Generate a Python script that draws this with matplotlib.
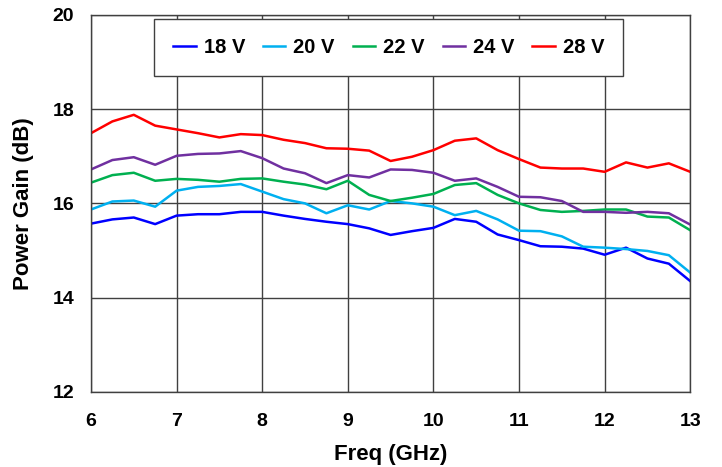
import numpy as np
import matplotlib
matplotlib.use("Agg")
import matplotlib.pyplot as plt

# Frequency points (GHz)
freq = np.arange(6.0, 13.01, 0.25)

# Power gain (dB) per drain voltage
gain_18v = [15.57, 15.66, 15.70, 15.56, 15.74, 15.77, 15.77, 15.82, 15.82, 15.74,
            15.67, 15.61, 15.56, 15.47, 15.33, 15.41, 15.48, 15.67, 15.61, 15.34,
            15.22, 15.09, 15.08, 15.04, 14.91, 15.06, 14.83, 14.72, 14.35]
gain_20v = [15.87, 16.04, 16.06, 15.93, 16.27, 16.35, 16.37, 16.41, 16.25, 16.09,
            16.00, 15.79, 15.96, 15.87, 16.05, 16.00, 15.93, 15.75, 15.84, 15.66,
            15.42, 15.41, 15.30, 15.08, 15.06, 15.03, 14.99, 14.90, 14.53]
gain_22v = [16.44, 16.60, 16.65, 16.48, 16.52, 16.50, 16.46, 16.52, 16.53, 16.46,
            16.40, 16.30, 16.48, 16.18, 16.05, 16.12, 16.20, 16.39, 16.43, 16.18,
            16.00, 15.86, 15.82, 15.84, 15.87, 15.87, 15.72, 15.70, 15.43]
gain_24v = [16.72, 16.92, 16.98, 16.82, 17.01, 17.05, 17.06, 17.11, 16.96, 16.74,
            16.64, 16.43, 16.60, 16.55, 16.72, 16.71, 16.65, 16.48, 16.53, 16.35,
            16.14, 16.13, 16.05, 15.82, 15.82, 15.80, 15.82, 15.79, 15.55]
gain_28v = [17.49, 17.74, 17.88, 17.65, 17.57, 17.49, 17.40, 17.47, 17.45, 17.35,
            17.28, 17.17, 17.16, 17.12, 16.90, 16.99, 17.13, 17.33, 17.38, 17.13,
            16.94, 16.76, 16.74, 16.74, 16.67, 16.87, 16.76, 16.85, 16.67]

labels = ["18 V", "20 V", "22 V", "24 V", "28 V"]
colors = ["#0000FF", "#00B0F0", "#00B050", "#7030A0", "#FF0000"]
series = [gain_18v, gain_20v, gain_22v, gain_24v, gain_28v]

plt.rcParams['font.family'] = ['Liberation Sans', 'DejaVu Sans']

fig = plt.figure(figsize=(7.22, 4.67), dpi=100)
ax = fig.add_axes([0.126, 0.161, 0.830, 0.807])

for vals, lab, col in zip(series, labels, colors):
    ax.plot(freq, vals, color=col, lw=1.8, label=lab)

ax.set_xlim(6, 13)
ax.set_ylim(12, 20)
ax.set_xticks(range(6, 14))
ax.set_yticks(range(12, 21, 2))
ax.grid(True, color="#404040", lw=1.0)
ax.set_axisbelow(True)
for s in ax.spines.values():
    s.set_color("#404040")
    s.set_linewidth(1.0)
ax.tick_params(length=0, labelsize=14)
ax.tick_params(axis="y", pad=12)
ax.tick_params(axis="x", pad=15)
for t in ax.get_xticklabels() + ax.get_yticklabels():
    t.set_fontweight("bold")

ax.set_xlabel("Freq (GHz)", fontsize=16, fontweight="bold", labelpad=10)
ax.set_ylabel("Power Gain (dB)", fontsize=16, fontweight="bold", labelpad=13)

leg = ax.legend(loc="upper center", bbox_to_anchor=(0.497, 0.99), ncol=5,
                frameon=True, fancybox=False, handlelength=1.1, columnspacing=0.9,
                handletextpad=0.4, borderpad=0.95, borderaxespad=0.0,
                prop={"weight": "bold", "size": 14.5})
leg.get_frame().set_edgecolor("#404040")
leg.get_frame().set_linewidth(1.0)
leg.get_frame().set_alpha(1.0)

fig.savefig("out.png", dpi=100)
